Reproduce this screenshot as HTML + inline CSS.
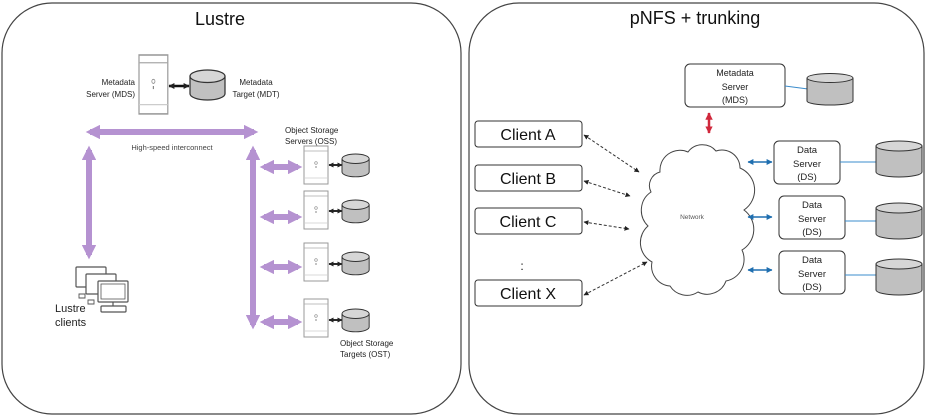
<!DOCTYPE html>
<html><head><meta charset="utf-8"><style>
html,body{margin:0;padding:0;background:#fff}
svg{display:block;font-family:"Liberation Sans",Arial,sans-serif}
</style></head><body>
<svg width="926" height="417" viewBox="0 0 926 417" xmlns="http://www.w3.org/2000/svg">
<defs>
<marker id="ab" viewBox="0 0 10 10" refX="9" refY="5" markerUnits="userSpaceOnUse" markerWidth="6" markerHeight="6" orient="auto-start-reverse"><path d="M0,0L10,5L0,10z" fill="#222"/></marker>
<marker id="abs" viewBox="0 0 10 10" refX="9" refY="5" markerUnits="userSpaceOnUse" markerWidth="5" markerHeight="5" orient="auto-start-reverse"><path d="M0,0L10,5L0,10z" fill="#222"/></marker>
<marker id="abl" viewBox="0 0 10 10" refX="9" refY="5" markerUnits="userSpaceOnUse" markerWidth="6" markerHeight="6" orient="auto-start-reverse"><path d="M0,0L10,5L0,10z" fill="#1f6fb0"/></marker>
<marker id="ar" viewBox="0 0 10 10" refX="9" refY="5" markerWidth="3" markerHeight="3" orient="auto-start-reverse"><path d="M0,0L10,5L0,10z" fill="#d0283c"/></marker>
<marker id="ap" viewBox="0 0 10 10" refX="7" refY="5" markerWidth="2.4" markerHeight="2.4" orient="auto-start-reverse"><path d="M0,0L10,5L0,10z" fill="#b592d1"/></marker>
<g id="srv">
<rect x="0" y="0" width="24" height="38" fill="#fff" stroke="#999" stroke-width="1"/>
<line x1="0" y1="5" x2="24" y2="5" stroke="#aaa" stroke-width="0.8"/>
<circle cx="12" cy="17" r="1.3" fill="none" stroke="#888" stroke-width="0.6"/>
<line x1="12" y1="20" x2="12" y2="22" stroke="#888"/>
<line x1="0" y1="32" x2="24" y2="32" stroke="#ccc" stroke-width="0.8"/>
</g>
<g id="cyl">
<path d="M0,5 L0,19 A14,5 0 0 0 28,19 L28,5" fill="#c0c0c0" stroke="#333" stroke-width="1"/>
<ellipse cx="14" cy="5" rx="14" ry="5" fill="#d6d6d6" stroke="#333" stroke-width="1"/>
</g>
<g id="cylb">
<path d="M0,5 L0,31 A23,5 0 0 0 46,31 L46,5" fill="#c0c0c0" stroke="#333" stroke-width="1"/>
<ellipse cx="23" cy="5" rx="23" ry="5" fill="#d6d6d6" stroke="#333" stroke-width="1"/>
</g>
</defs>

<!-- LEFT PANEL -->
<rect x="2" y="3" width="459" height="411" rx="50" fill="#fff" stroke="#444" stroke-width="1.2"/>
<text x="220" y="25" font-size="18" text-anchor="middle" fill="#111">Lustre</text>

<g transform="translate(139,55) scale(1.2,1.55)"><use href="#srv"/></g>
<text x="135" y="85" font-size="8" text-anchor="end" fill="#222">Metadata</text>
<text x="135" y="97" font-size="8" text-anchor="end" fill="#222">Server (MDS)</text>
<line x1="169" y1="86" x2="189" y2="86" stroke="#111" stroke-width="2.5" marker-start="url(#ab)" marker-end="url(#ab)"/>
<g transform="translate(190,70) scale(1.25,1.25)"><use href="#cyl"/></g>
<text x="256" y="85" font-size="8" text-anchor="middle" fill="#222">Metadata</text>
<text x="256" y="97" font-size="8" text-anchor="middle" fill="#222">Target (MDT)</text>

<g stroke="#b592d1" stroke-width="6" fill="none">
<line x1="90" y1="132" x2="254" y2="132" marker-start="url(#ap)" marker-end="url(#ap)"/>
<line x1="89" y1="150" x2="89" y2="255" marker-start="url(#ap)" marker-end="url(#ap)"/>
<line x1="253" y1="150" x2="253" y2="325" marker-start="url(#ap)" marker-end="url(#ap)"/>
<line x1="264" y1="167" x2="298" y2="167" marker-start="url(#ap)" marker-end="url(#ap)"/>
<line x1="264" y1="217" x2="298" y2="217" marker-start="url(#ap)" marker-end="url(#ap)"/>
<line x1="264" y1="267" x2="298" y2="267" marker-start="url(#ap)" marker-end="url(#ap)"/>
<line x1="264" y1="322" x2="298" y2="322" marker-start="url(#ap)" marker-end="url(#ap)"/>
</g>
<text x="172" y="150" font-size="7.5" text-anchor="middle" fill="#444">High-speed  interconnect</text>
<text x="285" y="133" font-size="8" fill="#222">Object Storage</text>
<text x="285" y="144" font-size="8" fill="#222">Servers (OSS)</text>

<g transform="translate(304,146)"><use href="#srv"/></g>
<g transform="translate(304,191)"><use href="#srv"/></g>
<g transform="translate(304,243)"><use href="#srv"/></g>
<g transform="translate(304,299)"><use href="#srv"/></g>
<g stroke="#111" stroke-width="1.8">
<line x1="329" y1="165" x2="342" y2="165" marker-start="url(#abs)" marker-end="url(#abs)"/>
<line x1="329" y1="211" x2="342" y2="211" marker-start="url(#abs)" marker-end="url(#abs)"/>
<line x1="329" y1="264" x2="342" y2="264" marker-start="url(#abs)" marker-end="url(#abs)"/>
<line x1="329" y1="320" x2="342" y2="320" marker-start="url(#abs)" marker-end="url(#abs)"/>
</g>
<g transform="translate(342,154) scale(0.97,0.95)"><use href="#cyl"/></g>
<g transform="translate(342,200) scale(0.97,0.95)"><use href="#cyl"/></g>
<g transform="translate(342,252) scale(0.97,0.95)"><use href="#cyl"/></g>
<g transform="translate(342,309) scale(0.97,0.95)"><use href="#cyl"/></g>
<text x="340" y="346" font-size="8" fill="#222">Object Storage</text>
<text x="340" y="357" font-size="8" fill="#222">Targets (OST)</text>

<g fill="#fff" stroke="#555" stroke-width="1.2">
<rect x="76" y="267" width="30" height="20" rx="1"/>
<rect x="86" y="274" width="30" height="20" rx="1"/>
<rect x="98" y="281" width="30" height="21" rx="1"/>
<rect x="101" y="284" width="24" height="15" fill="none" stroke-width="0.8"/>
<line x1="113" y1="302" x2="113" y2="306"/>
<rect x="101" y="306" width="25" height="6" rx="1"/>
<path d="M79,294 h6 v4 h-6z M88,300 h6 v4 h-6z" stroke-width="0.9"/>
</g>
<text x="55" y="312" font-size="11" fill="#222">Lustre</text>
<text x="55" y="326" font-size="11" fill="#222">clients</text>

<!-- RIGHT PANEL -->
<rect x="469" y="3" width="455" height="411" rx="50" fill="#fff" stroke="#444" stroke-width="1.2"/>
<text x="695" y="24" font-size="18" text-anchor="middle" fill="#111">pNFS + trunking</text>

<rect x="685" y="64" width="100" height="43" rx="5" fill="#fff" stroke="#333" stroke-width="1"/>
<text x="735" y="76" font-size="9" text-anchor="middle" fill="#222">Metadata</text>
<text x="735" y="90" font-size="9" text-anchor="middle" fill="#222">Server</text>
<text x="735" y="103" font-size="9" text-anchor="middle" fill="#222">(MDS)</text>
<line x1="785" y1="86" x2="808" y2="89" stroke="#3b8ccc" stroke-width="1"/>
<g transform="translate(807,73)"><path d="M0,5 L0,28 A23,4 0 0 0 46,28 L46,5" fill="#c0c0c0" stroke="#333"/><ellipse cx="23" cy="5" rx="23" ry="4.5" fill="#d6d6d6" stroke="#333"/></g>
<line x1="709" y1="113" x2="709" y2="133" stroke="#d0283c" stroke-width="2.5" marker-start="url(#ar)" marker-end="url(#ar)"/>

<g fill="#fff" stroke="#333" stroke-width="1">
<rect x="475" y="121" width="107" height="26" rx="3"/>
<rect x="475" y="165" width="107" height="26" rx="3"/>
<rect x="475" y="208" width="107" height="26" rx="3"/>
<rect x="475" y="280" width="107" height="26" rx="3"/>
</g>
<g font-size="16" text-anchor="middle" fill="#111">
<text x="528" y="140">Client A</text>
<text x="528" y="184">Client B</text>
<text x="528" y="227">Client C</text>
<text x="528" y="299">Client X</text>
<text x="522" y="270" font-size="12">:</text>
</g>
<g stroke="#333" stroke-width="1" stroke-dasharray="3,2">
<line x1="584" y1="135" x2="639" y2="172" marker-start="url(#abs)" marker-end="url(#abs)"/>
<line x1="584" y1="181" x2="630" y2="196" marker-start="url(#abs)" marker-end="url(#abs)"/>
<line x1="584" y1="222" x2="629" y2="229" marker-start="url(#abs)" marker-end="url(#abs)"/>
<line x1="584" y1="295" x2="647" y2="262" marker-start="url(#abs)" marker-end="url(#abs)"/>
</g>

<path d="M660,172 A20,20 0 0 1 688,152 A18,18 0 0 1 716,151 A18,18 0 0 1 740,168 A24,24 0 0 1 744,210 A24,24 0 0 1 742,250 A22,22 0 0 1 726,281 A20,20 0 0 1 698,292 A20,20 0 0 1 670,286 A20,20 0 0 1 652,262 A22,22 0 0 1 648,226 A22,22 0 0 1 651,192 A14,14 0 0 1 660,172 Z" fill="#fff" stroke="#444" stroke-width="1"/>
<text x="692" y="219" font-size="6.5" text-anchor="middle" fill="#555">Network</text>

<g stroke="#1f6fb0" stroke-width="1.5">
<line x1="748" y1="162" x2="772" y2="162" marker-start="url(#abl)" marker-end="url(#abl)"/>
<line x1="748" y1="217" x2="772" y2="217" marker-start="url(#abl)" marker-end="url(#abl)"/>
<line x1="748" y1="270" x2="772" y2="270" marker-start="url(#abl)" marker-end="url(#abl)"/>
</g>
<g fill="#fff" stroke="#333" stroke-width="1">
<rect x="774" y="141" width="66" height="43" rx="5"/>
<rect x="779" y="196" width="66" height="43" rx="5"/>
<rect x="779" y="251" width="66" height="43" rx="5"/>
</g>
<g font-size="9.5" text-anchor="middle" fill="#222">
<text x="807" y="153">Data</text><text x="807" y="167">Server</text><text x="807" y="180">(DS)</text>
<text x="812" y="208">Data</text><text x="812" y="222">Server</text><text x="812" y="235">(DS)</text>
<text x="812" y="263">Data</text><text x="812" y="277">Server</text><text x="812" y="290">(DS)</text>
</g>
<g stroke="#3b8ccc" stroke-width="1">
<line x1="840" y1="162" x2="876" y2="162"/>
<line x1="845" y1="221" x2="876" y2="221"/>
<line x1="845" y1="275" x2="876" y2="275"/>
</g>
<g transform="translate(876,141)"><use href="#cylb"/></g>
<g transform="translate(876,203)"><use href="#cylb"/></g>
<g transform="translate(876,259)"><use href="#cylb"/></g>
</svg>
</body></html>
